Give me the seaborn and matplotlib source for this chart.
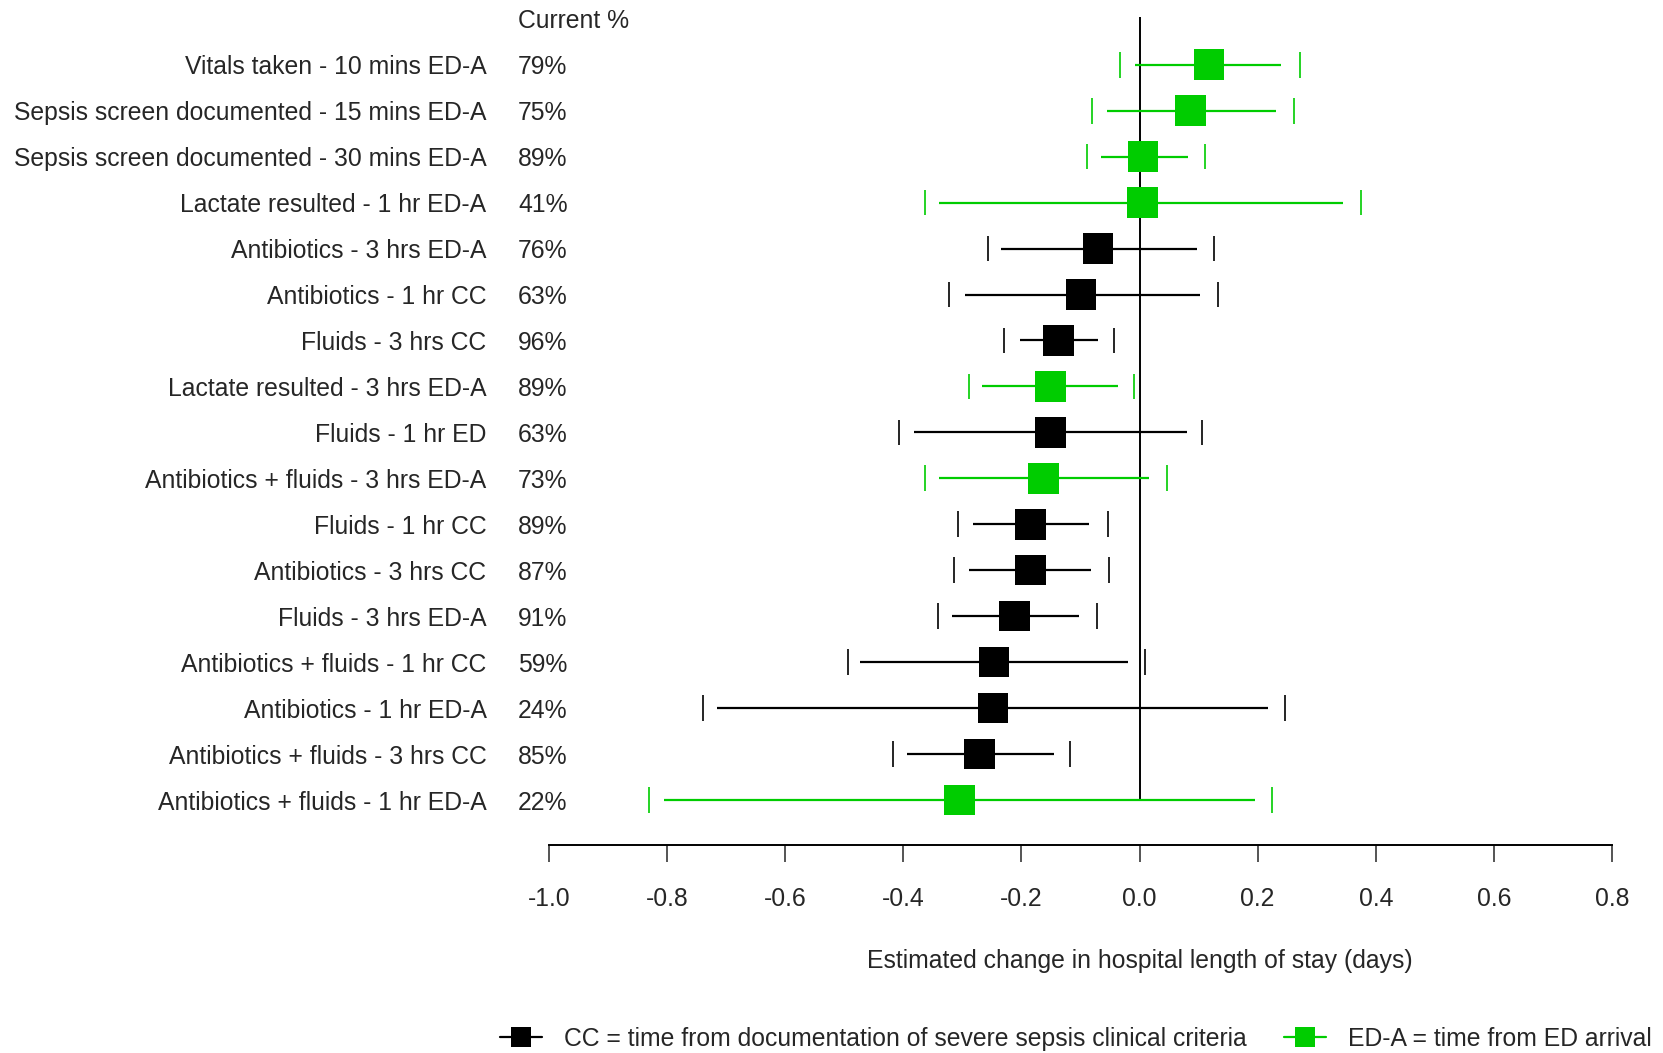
import pandas as pd
import seaborn as sns
import matplotlib.pyplot as plt
from matplotlib.lines import Line2D

# rows top to bottom
labels = [
    "Vitals taken - 10 mins ED-A",
    "Sepsis screen documented - 15 mins ED-A",
    "Sepsis screen documented - 30 mins ED-A",
    "Lactate resulted - 1 hr ED-A",
    "Antibiotics - 3 hrs ED-A",
    "Antibiotics - 1 hr CC",
    "Fluids - 3 hrs CC",
    "Lactate resulted - 3 hrs ED-A",
    "Fluids - 1 hr ED",
    "Antibiotics + fluids - 3 hrs ED-A",
    "Fluids - 1 hr CC",
    "Antibiotics - 3 hrs CC",
    "Fluids - 3 hrs ED-A",
    "Antibiotics + fluids - 1 hr CC",
    "Antibiotics - 1 hr ED-A",
    "Antibiotics + fluids - 3 hrs CC",
    "Antibiotics + fluids - 1 hr ED-A",
]
current_pct = [79, 75, 89, 41, 76, 63, 96, 89, 63, 73, 89, 87, 91, 59, 24, 85, 22]
estimate = [0.118, 0.086, 0.006, 0.005, -0.070, -0.099, -0.137, -0.151, -0.151,
            -0.163, -0.185, -0.185, -0.212, -0.246, -0.248, -0.271, -0.305]
ci_low = [-0.008, -0.055, -0.065, -0.339, -0.235, -0.296, -0.203, -0.266, -0.382,
          -0.339, -0.282, -0.289, -0.317, -0.474, -0.716, -0.394, -0.805]
ci_high = [0.239, 0.231, 0.082, 0.345, 0.097, 0.102, -0.070, -0.037, 0.080,
           0.016, -0.085, -0.083, -0.102, -0.020, 0.218, -0.145, 0.195]
outer_low = [-0.033, -0.080, -0.089, -0.364, -0.257, -0.323, -0.229, -0.288, -0.407,
             -0.364, -0.307, -0.314, -0.342, -0.494, -0.739, -0.418, -0.830]
outer_high = [0.271, 0.262, 0.111, 0.375, 0.126, 0.132, -0.044, -0.010, 0.106,
              0.047, -0.054, -0.052, -0.072, 0.010, 0.247, -0.118, 0.224]
group = ["ED-A", "ED-A", "ED-A", "ED-A", "CC", "CC", "CC", "ED-A", "CC",
         "ED-A", "CC", "CC", "CC", "CC", "CC", "CC", "ED-A"]
x_ticks = [-1.0, -0.8, -0.6, -0.4, -0.2, 0.0, 0.2, 0.4, 0.6, 0.8]

palette = {"CC": "black", "ED-A": "#00cc00"}
legend_text = {"CC": "CC = time from documentation of severe sepsis clinical criteria",
               "ED-A": "ED-A = time from ED arrival"}

df = pd.DataFrame({"label": labels, "pct": current_pct, "est": estimate,
                   "lo": ci_low, "hi": ci_high, "olo": outer_low, "ohi": outer_high,
                   "group": group})
df["row"] = range(len(df))

sns.set_style("white")
plt.rcParams['font.family'] = ['Liberation Sans', 'DejaVu Sans']
plt.rcParams['font.size'] = 17.8

fig = plt.figure(figsize=(16.63, 10.53), dpi=100)
ax = fig.add_axes([549 / 1663, 1 - 845 / 1053, 1063 / 1663, 845 / 1053])

# reference line at zero
ax.vlines(0, -1.03, len(df) - 1, color="black", lw=1.4, zorder=1)

for _, r in df.iterrows():
    c = palette[r["group"]]
    ax.hlines(r["row"], r["lo"], r["hi"], color=c, lw=1.6, zorder=2)
    ax.vlines([r["olo"], r["ohi"]], r["row"] - 0.28, r["row"] + 0.28, color=c, lw=1.2, zorder=2)

sns.scatterplot(data=df, x="est", y="row", hue="group", palette=palette, marker="s",
                s=480, linewidth=0, legend=False, ax=ax, zorder=3)

ax.set_xlim(-1.0, 0.8)
ax.set_ylim(16.978, -1.408)
ax.set_xticks(x_ticks)
ax.set_xticklabels([f"{t:.1f}" for t in x_ticks])
ax.set_yticks(df["row"])
ax.set_yticklabels(df["label"])
ax.tick_params(axis="y", length=0, pad=45)
ax.tick_params(axis="x", direction="out", length=12, width=1.1, pad=18, bottom=True)
for s in ["top", "right", "left"]:
    ax.spines[s].set_visible(False)
ax.spines["bottom"].set_linewidth(1.4)
ax.spines["bottom"].set_color("black")
ax.set_xlabel("Estimated change in hospital length of stay (days)", labelpad=30)
ax.xaxis.set_label_coords((0 - (-1.0)) / 1.8, -0.123)
ax.set_ylabel("")

tr = ax.get_yaxis_transform()
px = (518 - 549) / 1063
ax.text(px, -1, "Current %", transform=tr, ha="left", va="center_baseline")
for _, r in df.iterrows():
    ax.text(px, r["row"], f"{r['pct']}%", transform=tr, ha="left", va="center_baseline")

handles = [Line2D([0], [0], color=palette[g], lw=1.6, marker="s", markersize=14,
                  markeredgewidth=0, label=legend_text[g]) for g in ["CC", "ED-A"]]
fig.legend(handles=handles, loc="center", bbox_to_anchor=(0.647, 1 - 1039 / 1053),
           ncol=2, frameon=False, handlelength=1.7, handletextpad=0.9, columnspacing=1.5,
           borderaxespad=0, borderpad=0)

fig.savefig("out.png", dpi=100)
